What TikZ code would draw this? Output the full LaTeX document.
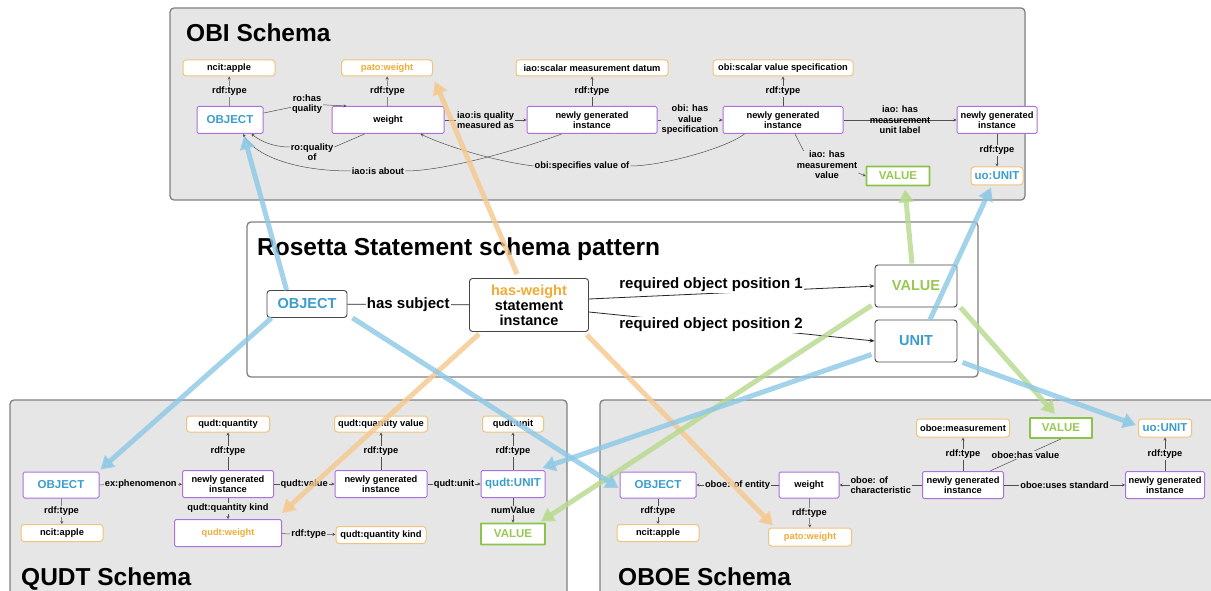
\documentclass[tikz,border=0pt]{standalone}
\usepackage{fontspec}
\setmainfont{Liberation Sans}
\usetikzlibrary{arrows.meta,calc}
\definecolor{panelF}{RGB}{230,230,230}
\definecolor{panelB}{RGB}{128,128,128}
\definecolor{purpleB}{RGB}{172,112,224}
\definecolor{orangeB}{RGB}{240,196,122}
\definecolor{orangeT}{RGB}{240,172,52}
\definecolor{blueT}{RGB}{58,158,205}
\definecolor{greenB}{RGB}{138,196,72}
\definecolor{greenT}{RGB}{152,200,84}
\definecolor{lineC}{RGB}{80,80,80}
\definecolor{rB}{RGB}{70,70,70}
\definecolor{bigBlue}{RGB}{140,200,230}
\definecolor{bigGreen}{RGB}{182,218,140}
\definecolor{bigOrange}{RGB}{246,200,140}
\tikzset{
 sm/.style={font=\fontsize{9.3}{10.5}\selectfont\bfseries},
 box/.style={sm, draw, fill=white, rounded corners=1.5pt, inner sep=0pt, align=center},
 pbox/.style={box, draw=purpleB, line width=1pt},
 obox/.style={box, draw=orangeB, line width=1pt, rounded corners=3pt},
 gbox/.style={box, draw=greenB, line width=1.8pt, rounded corners=0.5pt},
 big/.style={font=\fontsize{11.5}{13}\selectfont\bfseries},
 lbl/.style={sm, inner sep=1pt, align=center, fill=panelF},
 conn/.style={draw=lineC, line width=0.5pt},
 arr/.style={conn, -{Stealth[length=3pt,width=3pt]}},
 panel/.style={draw=panelB, line width=1.3pt, fill=panelF, rounded corners=4pt},
 rpanel/.style={draw=panelB, line width=1.3pt, fill=white, rounded corners=4pt},
 title/.style={font=\fontsize{24.5}{28}\selectfont\bfseries, anchor=base west, inner sep=0pt},
 rbox/.style={draw=rB, line width=0.9pt, fill=white, rounded corners=3pt, font=\fontsize{14.5}{15}\selectfont\bfseries, align=center, inner sep=0pt},
 rlbl/.style={font=\fontsize{15}{17}\selectfont\bfseries, inner sep=1pt, fill=white},
 rline/.style={draw=black!85, line width=0.8pt},
 rarr/.style={rline, -{Stealth[length=5pt,width=4pt]}},
 bigarrow/.style={line width=5pt, opacity=0.8, -{Triangle[length=13pt,width=15pt]}},
}
\begin{document}
\begin{tikzpicture}[x=1pt,y=-1pt]
\useasboundingbox (0,0) rectangle (1211,591);
\clip (0,0) rectangle (1211,591);
\fill[white] (0,0) rectangle (1211,591);

% ---------------- OBI ----------------
\draw[panel] (170,8) rectangle (1025,200);
\node[title] (tObi) at (186,42) {OBI Schema};

\node[pbox,big,text=blueT,minimum width=66pt,minimum height=27pt] (o1) at (230,120) {OBJECT};
\node[obox,minimum width=92pt,minimum height=16pt] (a1) at (229,68) {ncit:apple};
\node[pbox,minimum width=112pt,minimum height=27pt] (w1) at (388,120) {weight};
\node[obox,text=orangeT,minimum width=91pt,minimum height=16pt] (pw1) at (387,68) {pato:weight};
\node[pbox,minimum width=130pt,minimum height=27pt] (n1) at (592,120) {newly generated\\instance};
\node[obox,minimum width=152pt,minimum height=16pt] (smd) at (592,68) {iao:scalar measurement datum};
\node[pbox,minimum width=120pt,minimum height=27pt] (n2) at (783,120) {newly generated\\instance};
\node[obox,minimum width=140pt,minimum height=16pt] (svs) at (783,68) {obi:scalar value specification};
\node[pbox,minimum width=80pt,minimum height=27pt] (n3) at (997,120) {newly generated\\instance};
\node[gbox,big,text=greenT,minimum width=63pt,minimum height=19pt] (v1) at (898,176) {VALUE};
\node[obox,big,text=blueT,minimum width=52pt,minimum height=18pt] (u1) at (997,176) {uo:UNIT};

\draw[arr] (o1) -- node[lbl]{rdf:type} (a1);
\draw[arr] (w1) -- node[lbl]{rdf:type} (pw1);
\draw[arr] (n1) -- node[lbl]{rdf:type} (smd);
\draw[arr] (n2) -- node[lbl]{rdf:type} (svs);
\draw[arr] (n3) -- node[lbl]{rdf:type} (u1);

\node[lbl] (lHasQ) at (307,104) {ro:has\\quality};
\draw[conn] (o1) -- (lHasQ);
\draw[arr] (lHasQ) -- ($(w1.north west)+(15,0)$);

\node[lbl] (lQof) at (312,152) {ro:quality\\of};
\draw[conn] ($(w1.south west)+(33,0)$) -- ($(lQof.east)+(0,-5)$);
\draw[arr] ($(lQof.west)+(0,-5)$) .. controls +(-15,0) and +(10,8) .. ($(o1.south east)+(-12,0)$);

\node[lbl] (lAbout) at (378,171) {iao:is about};
\draw[conn] ($(n1.south west)+(35,0)$) .. controls +(-40,15) and +(40,0) .. (lAbout.east);
\draw[arr] (lAbout.west) .. controls +(-55,0) and +(12,22) .. ($(o1.south)+(13,0)$);

\draw[arr] (w1) -- node[lbl]{iao:is quality\\measured as} (n1);

\node[lbl] (lSpec) at (582,166) {obi:specifies value of};
\draw[conn] ($(n2.south west)+(22,0)$) .. controls +(-20,15) and +(30,0) .. (lSpec.east);
\draw[arr] (lSpec.west) .. controls +(-40,-5) and +(25,12) .. ($(w1.south east)+(-24,0)$);

\draw[arr] (n1) -- node[lbl]{obi: has\\value\\specification} (n2);
\draw[arr] (n2) -- node[lbl,fill=none]{iao: has\\measurement\\unit label} (n3);

\node[lbl] (lMv) at (827,165) {iao: has\\measurement\\value};
\draw[conn] ($(n2.south)+(12,0)$) -- ($(lMv.north west)+(8,1)$);
\draw[arr] ($(lMv.east)+(0,8)$) -- (v1.west);

% ---------------- Rosetta ----------------
\draw[rpanel] (247,222) rectangle (978,377);
\node[title] (tRos) at (257,255) {Rosetta Statement schema pattern};
\node[rbox,text=blueT,minimum width=80pt,minimum height=27pt] (rObj) at (307,304) {OBJECT};
\node[rbox,minimum width=119pt,minimum height=53pt] (rSt) at (529,305) {\textcolor{orangeT}{has-weight}\\statement\\instance};
\node[rbox,text=greenT,minimum width=82pt,minimum height=42pt] (rVal) at (916,286) {VALUE};
\node[rbox,text=blueT,minimum width=82pt,minimum height=42pt] (rUnit) at (916,341) {UNIT};

\draw[rline] (rObj) -- node[rlbl]{has subject} (rSt);
\draw[rarr] ($(rSt.east)+(0,-6)$) -- (rVal.west);
\draw[rarr] ($(rSt.east)+(0,7)$) -- (rUnit.west);
\node[rlbl] (lReq1) at (711,285) {required object position 1};
\node[rlbl] (lReq2) at (711,325) {required object position 2};

% ---------------- QUDT ----------------
\draw[panel] (10,400) rectangle (567,620);
\node[title] (tQudt) at (21,585) {QUDT Schema};

\node[obox,minimum width=83pt,minimum height=16pt] (qq) at (228,424) {qudt:quantity};
\node[pbox,minimum width=91pt,minimum height=27pt] (nq1) at (228,484) {newly generated\\instance};
\node[pbox,big,text=blueT,minimum width=76pt,minimum height=26pt] (qo) at (61,485) {OBJECT};
\node[obox,minimum width=82pt,minimum height=17pt] (qa) at (62,533) {ncit:apple};
\node[pbox,text=orangeT,minimum width=107pt,minimum height=27pt] (qw) at (228,533) {qudt:weight};
\node[obox,minimum width=90pt,minimum height=17pt] (qqk) at (381,535) {qudt:quantity kind};
\node[obox,minimum width=93pt,minimum height=16pt] (qqv) at (381,424) {qudt:quantity value};
\node[pbox,minimum width=92pt,minimum height=27pt] (nq2) at (381,484) {newly generated\\instance};
\node[pbox,big,text=blueT,minimum width=64pt,minimum height=27pt] (qu) at (513,484) {qudt:UNIT};
\node[obox,minimum width=61pt,minimum height=16pt] (qut) at (513,424) {qudt:unit};
\node[gbox,big,text=greenT,minimum width=64pt,minimum height=21pt] (qv) at (513,534) {VALUE};

\draw[arr] (nq1) -- node[lbl]{rdf:type} (qq);
\draw[arr] (qo) -- node[lbl]{ex:phenomenon} (nq1);
\draw[arr] (qo) -- node[lbl]{rdf:type} (qa);
\draw[arr] (nq1) -- node[lbl]{qudt:quantity kind} (qw);
\draw[arr] (qw) -- node[lbl]{rdf:type} (qqk);
\draw[arr] (nq1) -- node[lbl]{qudt:value} (nq2);
\draw[arr] (nq2) -- node[lbl]{rdf:type} (qqv);
\draw[arr] (nq2) -- node[lbl]{qudt:unit} (qu);
\draw[arr] (qu) -- node[lbl]{rdf:type} (qut);
\draw[arr] (qu) -- node[lbl]{numValue} (qv);

% ---------------- OBOE ----------------
\draw[panel] (600,400) rectangle (1240,620);
\node[title] (tOboe) at (618,585) {OBOE Schema};

\node[pbox,big,text=blueT,minimum width=76pt,minimum height=26pt] (bo) at (658,485) {OBJECT};
\node[obox,minimum width=82pt,minimum height=17pt] (ba) at (658,533) {ncit:apple};
\node[pbox,minimum width=60pt,minimum height=26pt] (bw) at (809,485) {weight};
\node[obox,text=orangeT,minimum width=83pt,minimum height=18pt] (bpw) at (810,537) {pato:weight};
\node[pbox,minimum width=81pt,minimum height=27pt] (bn1) at (963,485) {newly generated\\instance};
\node[obox,minimum width=93pt,minimum height=18pt] (bm) at (963,428) {oboe:measurement};
\node[gbox,big,text=greenT,minimum width=62pt,minimum height=20pt] (bv) at (1061,428) {VALUE};
\node[pbox,minimum width=79pt,minimum height=27pt] (bn2) at (1165,485) {newly generated\\instance};
\node[obox,big,text=blueT,minimum width=53pt,minimum height=18pt] (bu) at (1165,428) {uo:UNIT};

\draw[arr] (bw) -- node[lbl]{oboe: of entity} (bo);
\draw[arr] (bo) -- node[lbl]{rdf:type} (ba);
\draw[arr] (bw) -- node[lbl]{rdf:type} (bpw);
\draw[arr] (bn1) -- node[lbl,align=left]{oboe: of\\characteristic} (bw);
\draw[arr] (bn1) -- node[lbl]{rdf:type} (bm);
\draw[conn] ($(bn1.north east)+(-14,0)$) -- node[lbl]{oboe:has value} (bv.south);
\draw[arr] (bn1) -- node[lbl]{oboe:uses standard} (bn2);
\draw[arr] (bn2) -- node[lbl]{rdf:type} (bu);

% ---------------- big mapping arrows ----------------
\draw[bigarrow,color=bigOrange] ($(rSt.north)+(-12,-4)$) -- ($(pw1.south east)+(2,5)$);
\draw[bigarrow,color=bigOrange] ($(rSt.south west)+(10,2)$) -- ($(qw.north east)+(0,-6)$);
\draw[bigarrow,color=bigOrange] ($(rSt.south east)+(-2,3)$) -- ($(bpw.north west)+(5,-2)$);
\draw[bigarrow,color=bigGreen] ($(rVal.north)+(-4,-1)$) -- ($(v1.south)+(7,3)$);
\draw[bigarrow,color=bigGreen] ($(rVal.south west)+(-3,-2)$) -- ($(qv.north east)+(-5,-1)$);
\draw[bigarrow,color=bigGreen] ($(rVal.south east)+(3,0)$) -- ($(bv.north)+(-6,-3)$);
\draw[bigarrow,color=bigBlue] ($(rObj.north west)+(20,0)$) -- ($(o1.south)+(14,2)$);
\draw[bigarrow,color=bigBlue] ($(rObj.south west)+(5,0)$) -- ($(qo.north east)+(1,-2)$);
\draw[bigarrow,color=bigBlue] ($(rObj.south east)+(5,0)$) -- ($(bo.west)+(-1,3)$);
\draw[bigarrow,color=bigBlue] ($(rUnit.north)+(14,0)$) -- ($(u1.south)+(-6,2)$);
\draw[bigarrow,color=bigBlue] ($(rUnit.south west)+(-3,-8)$) -- ($(qu.north east)+(-3,-2)$);
\draw[bigarrow,color=bigBlue] ($(rUnit.south east)+(5,0)$) -- ($(bu.west)+(-2,-3)$);
\end{tikzpicture}
\end{document}
